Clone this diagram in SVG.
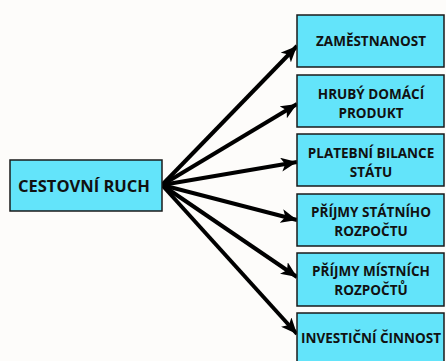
<svg xmlns="http://www.w3.org/2000/svg" width="446" height="361" viewBox="0 0 446 361">
<style>
.box{fill:#63E4FA;stroke:#1a1a1a;stroke-width:1.5}
.t{font-family:"Open Sans","DejaVu Sans",sans-serif;font-weight:bold;font-size:13.5px;fill:#111;text-anchor:middle}
.big{font-size:16.5px}
.c{stroke:#000;stroke-width:4;fill:none;marker-end:url(#ah)}
</style>
<defs>
<marker id="ah" markerUnits="userSpaceOnUse" markerWidth="18" markerHeight="14" refX="16" refY="7" orient="auto">
<path d="M0,0 L16,7 L0,14 L4,7 Z" fill="#000"/>
</marker>
</defs>
<rect width="446" height="361" fill="#FDFCFA"/>
<g id="connectors">
<line class="c" x1="162" y1="185" x2="297" y2="46"/>
<line class="c" x1="162" y1="185" x2="297" y2="104"/>
<line class="c" x1="162" y1="185" x2="297" y2="162"/>
<line class="c" x1="162" y1="185" x2="297" y2="220"/>
<line class="c" x1="162" y1="185" x2="297" y2="277"/>
<line class="c" x1="162" y1="185" x2="297" y2="334"/>
</g>
<g id="cestovni-ruch">
<rect class="box" x="10" y="160" width="152" height="51"/>
<text class="t big" x="84" y="192">CESTOVNÍ RUCH</text>
</g>
<g id="zamestnanost">
<rect class="box" x="297" y="15" width="147" height="52"/>
<text class="t" x="371" y="46">ZAMĚSTNANOST</text>
</g>
<g id="hruby-domaci-produkt">
<rect class="box" x="297" y="75" width="147" height="52"/>
<text class="t" x="371" y="99">HRUBÝ DOMÁCÍ</text>
<text class="t" x="371" y="117.5">PRODUKT</text>
</g>
<g id="platebni-bilance">
<rect class="box" x="297" y="134" width="147" height="52"/>
<text class="t" x="371" y="158">PLATEBNÍ BILANCE</text>
<text class="t" x="371" y="176.5">STÁTU</text>
</g>
<g id="prijmy-statniho">
<rect class="box" x="297" y="194" width="147" height="52"/>
<text class="t" x="371" y="217">PŘÍJMY STÁTNÍHO</text>
<text class="t" x="371" y="235.5">ROZPOČTU</text>
</g>
<g id="prijmy-mistnich">
<rect class="box" x="297" y="253" width="147" height="53"/>
<text class="t" x="371" y="276">PŘÍJMY MÍSTNÍCH</text>
<text class="t" x="371" y="294.5">ROZPOČTŮ</text>
</g>
<g id="investicni-cinnost">
<rect class="box" x="297" y="313" width="147" height="52"/>
<text class="t" x="371" y="343">INVESTIČNÍ ČINNOST</text>
</g>
</svg>
